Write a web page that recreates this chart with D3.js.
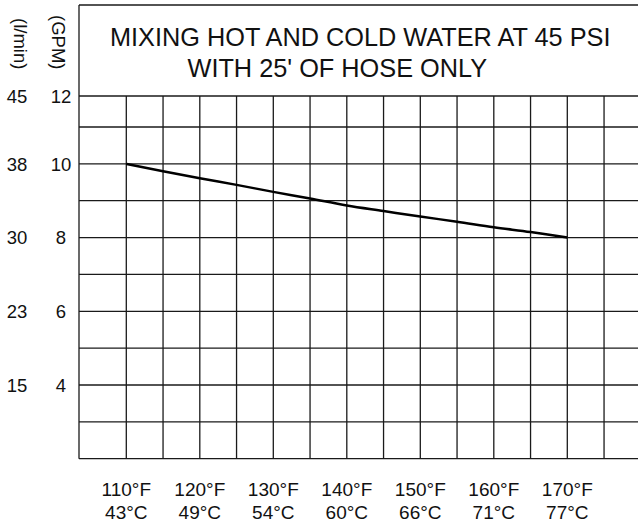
<!DOCTYPE html>
<html>
<head>
<meta charset="utf-8">
<script src="https://cdn.jsdelivr.net/npm/d3@7"></script>
<style>
  html, body { margin: 0; padding: 0; background: #fff; }
  svg { display: block; font-family: "Liberation Sans", Arial, Helvetica, sans-serif; }
</style>
</head>
<body>
<svg id="chart" width="638" height="526"></svg>
<script>
// ---- data ----
const titleLines = ["MIXING HOT AND COLD WATER AT 45 PSI", "WITH 25' OF HOSE ONLY"];
const tempF = [110, 115, 120, 125, 130, 135, 140, 145, 150, 155, 160, 165, 170];
const flowGPM = [10.0, 9.80, 9.61, 9.43, 9.24, 9.06, 8.87, 8.72, 8.57, 8.43, 8.28, 8.15, 8.0];
const xTickF = [110, 120, 130, 140, 150, 160, 170];
const xTickC = ["43°C", "49°C", "54°C", "60°C", "66°C", "71°C", "77°C"];
const xGrid = [110, 115, 120, 125, 130, 135, 140, 145, 150, 155, 160, 165, 170, 175, 180];
const yGrid = [2, 3, 4, 5, 6, 7, 8, 9, 10, 11, 12];
const gpmTicks = [12, 10, 8, 6, 4];
const lminTicks = [45, 38, 30, 23, 15];

const svg = d3.select("#chart");

// box extents
const boxLeft = 79, boxTop = 5, boxRight = 700;

// scales (piecewise to follow the grid of the original)
const x = d3.scaleLinear().domain([110, 170]).range([126.3, 567.3]);
const y = d3.scaleLinear().domain([2, 11, 12]).range([458.7, 127, 96]);

const lineColor = "#1a1a1a";

// outer box: left and top border
svg.append("line").attr("x1", boxLeft).attr("x2", boxLeft)
  .attr("y1", boxTop).attr("y2", y(2))
  .attr("stroke", lineColor).attr("stroke-width", 1.3);
svg.append("line").attr("x1", boxLeft).attr("x2", boxRight)
  .attr("y1", boxTop).attr("y2", boxTop)
  .attr("stroke", lineColor).attr("stroke-width", 1.3);

// horizontal grid lines
svg.append("g").selectAll("line").data(yGrid).join("line")
  .attr("x1", boxLeft).attr("x2", boxRight)
  .attr("y1", d => y(d)).attr("y2", d => y(d))
  .attr("stroke", lineColor).attr("stroke-width", 1.3);

// vertical grid lines
svg.append("g").selectAll("line").data(xGrid).join("line")
  .attr("x1", d => x(d)).attr("x2", d => x(d))
  .attr("y1", y(12)).attr("y2", y(2))
  .attr("stroke", lineColor).attr("stroke-width", 1.3);

// curve
const line = d3.line().x((d, i) => x(tempF[i])).y(d => y(d)).curve(d3.curveMonotoneX);
svg.append("path").datum(flowGPM)
  .attr("d", line).attr("fill", "none")
  .attr("stroke", "#000").attr("stroke-width", 2.5);

// title
svg.append("text").attr("x", 110).attr("y", 46)
  .attr("font-size", 25.3).attr("fill", "#111").text(titleLines[0]);
svg.append("text").attr("x", 187.5).attr("y", 77.3)
  .attr("font-size", 25.3).attr("fill", "#111").text(titleLines[1]);

// rotated axis unit labels
svg.append("text").attr("transform", "translate(13.5,18) rotate(90)")
  .attr("font-size", 18.5).attr("fill", "#111").text("(l/min)");
svg.append("text").attr("transform", "translate(52,15) rotate(90)")
  .attr("font-size", 18.5).attr("fill", "#111").text("(GPM)");

// y tick labels
svg.append("g").selectAll("text").data(gpmTicks).join("text")
  .attr("x", 61).attr("y", d => y(d)).attr("dy", "0.36em")
  .attr("text-anchor", "middle").attr("font-size", 18.5).attr("fill", "#111")
  .text(d => d);
svg.append("g").selectAll("text").data(lminTicks).join("text")
  .attr("x", 17).attr("y", (d, i) => y(gpmTicks[i])).attr("dy", "0.36em")
  .attr("text-anchor", "middle").attr("font-size", 18.5).attr("fill", "#111")
  .text(d => d);

// x tick labels
svg.append("g").selectAll("text").data(xTickF).join("text")
  .attr("x", d => x(d)).attr("y", 496)
  .attr("text-anchor", "middle").attr("font-size", 19).attr("fill", "#111")
  .text(d => d + "°F");
svg.append("g").selectAll("text").data(xTickC).join("text")
  .attr("x", (d, i) => x(xTickF[i])).attr("y", 519)
  .attr("text-anchor", "middle").attr("font-size", 19).attr("fill", "#111")
  .text(d => d);
</script>
</body>
</html>
